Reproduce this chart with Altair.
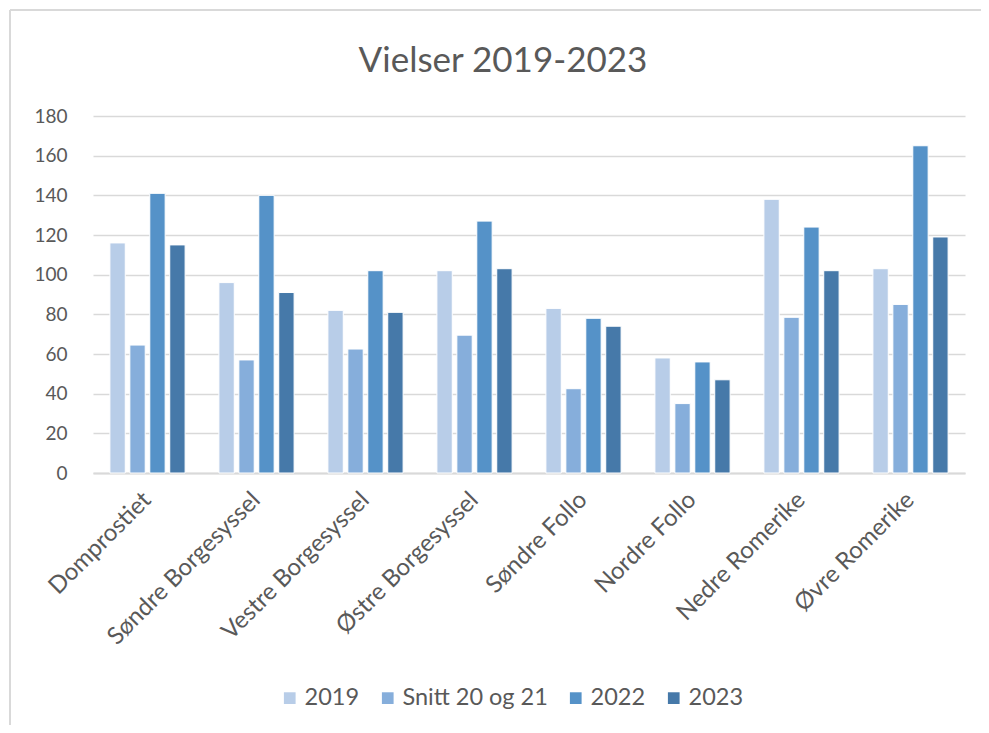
import altair as alt
import pandas as pd

categories = ["Domprostiet", "Søndre Borgesyssel", "Vestre Borgesyssel", "Østre Borgesyssel",
              "Søndre Follo", "Nordre Follo", "Nedre Romerike", "Øvre Romerike"]
series = ["2019", "Snitt 20 og 21", "2022", "2023"]
v2019 = [116, 96, 82, 102, 83, 58, 138, 103]
snitt = [64.5, 57, 62.5, 69.5, 42.5, 35, 78.5, 85]
v2022 = [141, 140, 102, 127, 78, 56, 124, 165]
v2023 = [115, 91, 81, 103, 74, 47, 102, 119]
colors = ["#B8CDE8", "#86AEDB", "#5592C8", "#4679A9"]
y_ticks = [0, 20, 40, 60, 80, 100, 120, 140, 160, 180]
title_text = "Vielser 2019-2023"

rows = []
for s, vals in zip(series, [v2019, snitt, v2022, v2023]):
    for c, v in zip(categories, vals):
        rows.append({"Prosti": c, "Serie": s, "Antall": v})
df = pd.DataFrame(rows)

FONT = "Lato"
GREY = "#595959"
GRID = "#D9D9D9"

bars = alt.Chart(df).mark_bar(stroke="white", strokeWidth=1).encode(
    x=alt.X("Prosti:N", sort=categories, title=None,
            scale=alt.Scale(paddingInner=0.31, paddingOuter=0.155),
            axis=alt.Axis(labelAngle=-45, labelAlign="right", labelBaseline="middle",
                          labelFontSize=24, labelFont=FONT, labelColor=GREY,
                          labelPadding=23, labelLimit=500, ticks=False, tickSize=0,
                          domainColor=GRID, domainWidth=2, grid=False)),
    xOffset=alt.XOffset("Serie:N", sort=series,
                        scale=alt.Scale(paddingInner=0.23, paddingOuter=0)),
    y=alt.Y("Antall:Q", title=None,
            scale=alt.Scale(domain=[0, 180], nice=False),
            axis=alt.Axis(values=y_ticks, labelFontSize=19, labelFont=FONT, labelColor=GREY,
                          labelPadding=26, ticks=False, tickSize=0, domain=False,
                          gridColor=GRID, gridWidth=1.5)),
    color=alt.Color("Serie:N", sort=series,
                    scale=alt.Scale(domain=series, range=colors),
                    legend=alt.Legend(title=None, orient="none", legendX=185, legendY=570,
                                      direction="horizontal", symbolType="square",
                                      symbolSize=137, symbolStrokeWidth=0,
                                      labelFontSize=23.5, labelFont=FONT, labelColor=GREY,
                                      labelOffset=3, columnPadding=16, padding=0)),
)

single = alt.Data(values=[{"t": title_text}])
title = alt.Chart(single).mark_text(
    font=FONT, fontSize=35, color=GREY, align="center", baseline="alphabetic"
).encode(text="t:N", x=alt.value(410), y=alt.value(-44))

left_border = alt.Chart(single).mark_rule(color=GRID, strokeWidth=2).encode(
    x=alt.value(-83), y=alt.value(-106), y2=alt.value(609))
top_border = alt.Chart(single).mark_rule(color=GRID, strokeWidth=2).encode(
    x=alt.value(-83), x2=alt.value(888), y=alt.value(-106))

chart = alt.layer(bars, title, left_border, top_border).properties(
    width=872, height=357,
    autosize=alt.AutoSizeParams(type="none"),
    padding={"left": 85, "top": 108, "right": 16, "bottom": 252},
).configure_view(stroke=None)

chart.save("out.html", embed_options={"renderer": "svg", "actions": False})
